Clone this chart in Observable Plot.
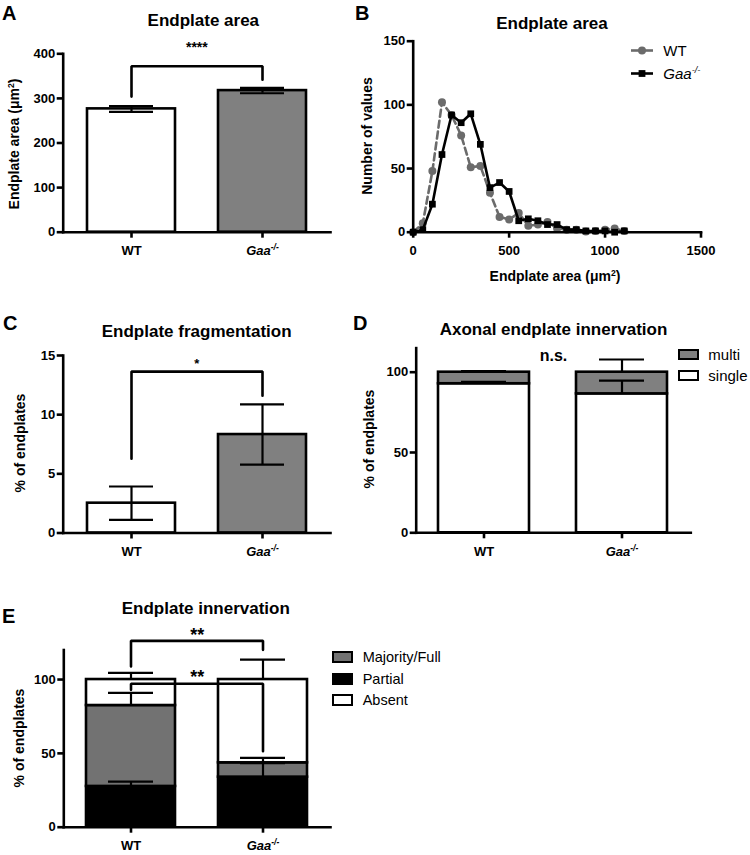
<!DOCTYPE html>
<html>
<head>
<meta charset="utf-8">
<script src="https://cdn.jsdelivr.net/npm/d3@7"></script>
<script src="https://cdn.jsdelivr.net/npm/@observablehq/plot@0.6"></script>
<style>
  html, body { margin: 0; padding: 0; background: #fff; }
  #fig { position: relative; width: 750px; height: 855px; overflow: hidden; background: #fff;
         font-family: "Liberation Sans", Arial, Helvetica, sans-serif; color: #000; }
  .t { position: absolute; white-space: nowrap; line-height: 1; }
  .c { transform: translate(-50%, -50%); }
  .l { transform: translate(0, -50%); }
  .rot { transform: translate(-50%, -50%) rotate(-90deg); }
  .letter { font-size: 20px; font-weight: bold; }
  .title { font-size: 17px; font-weight: bold; }
  .axt { font-size: 14px; font-weight: bold; }
  .leg { font-size: 15px; font-weight: normal; }
  .legE { font-size: 14.5px; font-weight: normal; }
  sup.s { font-size: 0.62em; vertical-align: 0.55em; line-height: 0; }
</style>
</head>
<body>
<div id="fig"></div>
<script>
// ---------------- DATA ----------------
const groups = ["WT", "Gaa-/-"];

// A: endplate area (mean ± SEM, µm²)
const areaMean = [276.5, 317.5];
const areaSem = [6.5, 6.0];
const sigA = {label: "****", yLeft: 304, yRight: 342, yTop: 372, yLabel: 413};

// B: frequency distribution of endplate area
const binCenters = [0, 50, 100, 150, 200, 250, 300, 350, 400, 450, 500, 550, 600, 650, 700, 750, 800, 850, 900, 950, 1000, 1050, 1100];
const wtCounts  = [0, 7, 48, 102, 92, 76, 51, 52, 31, 12, 10, 15, 5, 6, 8, 3, 2, 2, 0.5, 1, 2, 3, 1];
const gaaCounts = [0, 2, 22, 61, 92, 86, 93, 69, 35, 39, 32, 9, 10.5, 9, 6, 6, 2, 2, 1, 1, 1, 0, 1];

// C: fragmentation (% of endplates, mean ± SEM)
const fragMean = [2.52, 8.32];
const fragSem = [1.41, 2.55];
const sigC = {label: "*", yLeft: 6.27, yRight: 11.6, yTop: 13.64, yLabel: 14.28};

// D: axonal innervation (stacked %, SEM upward)
const axonKinds = ["single", "multi"];
const singlePct = [92.8, 86.5];
const singleSem = [1.2, 8.3];
const multiPct = [7.2, 13.5];
const multiSem = [0.7, 7.9];
const sigD = {label: "n.s.", yLabel: 110.4};

// E: endplate innervation (stacked %, SEM upward)
const innervKinds = ["Partial", "Majority/Full", "Absent"];
const partialPct = [27.6, 33.9];
const partialSem = [3.3, 9.5];
const majorityPct = [54.8, 9.7];
const majoritySem = [8.6, 3.4];
const absentPct = [17.6, 56.4];
const absentSem = [4.5, 13.5];
const sigE1 = {label: "**", yLeft: 108.8, yRight: 120.1, yTop: 126.2, yLabel: 130};
const sigE2 = {label: "**", yLeft: 93.0, yRight: 51.4, yTop: 97.1, yLabel: 101.6};

// ---------------- STYLE ----------------
const FONT = '"Liberation Sans", Arial, Helvetica, sans-serif';
const GRAY = "#808080";
const GRAY_E = "#727272";
const GRAY_LINE = "#6b6b6b";
const barFill = {"WT": "white", "Gaa-/-": GRAY};
const axonFill = {single: "white", multi: GRAY};
const innervFill = {"Partial": "black", "Majority/Full": GRAY_E, "Absent": "white"};
const AXW = 2.6;
const TICKFONT = 13;

const fig = document.getElementById("fig");
const baseStyle = {fontFamily: FONT, fontSize: "13px", fontWeight: "bold", background: "transparent", overflow: "visible", color: "black"};

function place(svg, left, top) {
  svg.style.position = "absolute";
  svg.style.left = left + "px";
  svg.style.top = top + "px";
  svg.style.overflow = "visible";
  svg.style.background = "transparent";
  fig.appendChild(svg);
  gaaify(svg);
}
function gaaify(svg) {
  const ns = "http://www.w3.org/2000/svg";
  svg.querySelectorAll("text").forEach(t => {
    if (t.textContent.trim() === "Gaa-/-") {
      while (t.firstChild) t.removeChild(t.firstChild);
      const a = document.createElementNS(ns, "tspan");
      a.textContent = "Gaa"; a.setAttribute("font-style", "italic");
      const b = document.createElementNS(ns, "tspan");
      b.textContent = "-/-"; b.setAttribute("font-style", "italic");
      b.setAttribute("font-size", "8.5"); b.setAttribute("dy", "-0.6em");
      t.append(a, b);
    }
  });
}
function html(content, x, y, cls) {
  const d = document.createElement("div");
  d.className = "t " + cls;
  d.style.left = x + "px"; d.style.top = y + "px";
  d.innerHTML = content;
  fig.appendChild(d);
  return d;
}
const fmt = d3.format("d");
function frameAxes(yTicks, xTicks) {
  return [
    Plot.frame({anchor: "left", strokeWidth: AXW}),
    Plot.frame({anchor: "bottom", strokeWidth: AXW}),
    Plot.axisY({ticks: yTicks, tickFormat: fmt, tickSize: 6, tickPadding: 2, strokeWidth: AXW, fontSize: TICKFONT, fontWeight: "bold", label: null}),
    xTicks ? Plot.axisX({ticks: xTicks, tickFormat: fmt, tickSize: 6, tickPadding: 8, strokeWidth: AXW, fontSize: TICKFONT, fontWeight: "bold", label: null})
           : Plot.axisX({tickSize: 6, tickPadding: 8, strokeWidth: AXW, fontSize: TICKFONT, fontWeight: "bold", label: null})
  ];
}
function bracket(sig) {
  return [
    {x: groups[0], y: sig.yLeft}, {x: groups[0], y: sig.yTop},
    {x: groups[1], y: sig.yTop}, {x: groups[1], y: sig.yRight}
  ];
}
function stackRows(kinds, pcts, sems) {
  const rows = [];
  groups.forEach((g, i) => {
    let cum = 0;
    kinds.forEach((k, j) => {
      const v = pcts[j][i];
      rows.push({group: g, kind: k, y1: cum, y2: cum + v, sem: sems[j][i]});
      cum += v;
    });
  });
  return rows;
}

// ---------------- PANEL A ----------------
const tableA = groups.map((g, i) => ({group: g, mean: areaMean[i], sem: areaSem[i]}));
place(Plot.plot({
  width: 345, height: 265,
  marginLeft: 62.7, marginRight: 15, marginTop: 53.3, marginBottom: 33.3,
  style: baseStyle,
  x: {domain: groups, paddingInner: 0.33, paddingOuter: 0.18, label: null},
  y: {domain: [0, 400], label: null},
  marks: [
    Plot.barY(tableA, {x: "group", y: "mean", fill: d => barFill[d.group], stroke: "black", strokeWidth: AXW}),
    Plot.ruleX(tableA, {x: "group", y1: d => d.mean - d.sem, y2: d => d.mean + d.sem, strokeWidth: 2.2}),
    Plot.tickY(tableA, {x: "group", y: d => d.mean + d.sem, insetLeft: 22, insetRight: 22, strokeWidth: 2.2}),
    Plot.tickY(tableA, {x: "group", y: d => d.mean - d.sem, insetLeft: 22, insetRight: 22, strokeWidth: 2.2}),
    Plot.line(bracket(sigA), {x: "x", y: "y", strokeWidth: AXW, strokeLinejoin: "miter"}),
    Plot.text([sigA], {y: "yLabel", text: "label", fontSize: 14, lineAnchor: "middle"}),
    ...frameAxes([0, 100, 200, 300, 400])
  ]
}), 0, 0);

// ---------------- PANEL B ----------------
const wtRows = binCenters.map((x, i) => ({x, y: wtCounts[i]}));
const gaaRows = binCenters.map((x, i) => ({x, y: gaaCounts[i]}));
place(Plot.plot({
  width: 400, height: 290,
  marginLeft: 62.7, marginRight: 49.5, marginTop: 40.7, marginBottom: 58.3,
  style: baseStyle,
  x: {domain: [0, 1500], label: null},
  y: {domain: [0, 150], label: null},
  marks: [
    Plot.line(wtRows, {x: "x", y: "y", stroke: GRAY_LINE, strokeWidth: 2.6, strokeDasharray: "7,4"}),
    Plot.dot(wtRows, {x: "x", y: "y", fill: GRAY_LINE, r: 4}),
    Plot.line(gaaRows, {x: "x", y: "y", stroke: "black", strokeWidth: 2.6}),
    Plot.dot(gaaRows, {x: "x", y: "y", fill: "black", symbol: "square", r: 3.8}),
    ...frameAxes([0, 50, 100, 150], [0, 500, 1000, 1500])
  ]
}), 350, 0);

// ---------------- PANEL C ----------------
const tableC = groups.map((g, i) => ({group: g, mean: fragMean[i], sem: fragSem[i]}));
place(Plot.plot({
  width: 345, height: 260,
  marginLeft: 62.7, marginRight: 15, marginTop: 55, marginBottom: 27.5,
  style: baseStyle,
  x: {domain: groups, paddingInner: 0.33, paddingOuter: 0.18, label: null},
  y: {domain: [0, 15], label: null},
  marks: [
    Plot.barY(tableC, {x: "group", y: "mean", fill: d => barFill[d.group], stroke: "black", strokeWidth: AXW}),
    Plot.ruleX(tableC, {x: "group", y1: d => d.mean - d.sem, y2: d => d.mean + d.sem, strokeWidth: 2.2}),
    Plot.tickY(tableC, {x: "group", y: d => d.mean + d.sem, insetLeft: 22, insetRight: 22, strokeWidth: 2.2}),
    Plot.tickY(tableC, {x: "group", y: d => d.mean - d.sem, insetLeft: 22, insetRight: 22, strokeWidth: 2.2}),
    Plot.line(bracket(sigC), {x: "x", y: "y", strokeWidth: AXW, strokeLinejoin: "miter"}),
    Plot.text([sigC], {y: "yLabel", text: "label", fontSize: 13, lineAnchor: "middle"}),
    ...frameAxes([0, 5, 10, 15])
  ]
}), 0, 300);

// ---------------- PANEL D ----------------
const rowsD = stackRows(axonKinds, [singlePct, multiPct], [singleSem, multiSem]);
place(Plot.plot({
  width: 400, height: 260,
  marginLeft: 65.7, marginRight: 59.7, marginTop: 47.6, marginBottom: 27.7,
  style: baseStyle,
  x: {domain: groups, paddingInner: 0.34, paddingOuter: 0.163, label: null},
  y: {domain: [0, 115], label: null},
  marks: [
    Plot.barY(rowsD, {x: "group", y1: "y1", y2: "y2", fill: d => axonFill[d.kind], stroke: "black", strokeWidth: AXW}),
    Plot.ruleX(rowsD, {x: "group", y1: "y2", y2: d => d.y2 + d.sem, strokeWidth: 2.2}),
    Plot.tickY(rowsD, {x: "group", y: d => d.y2 + d.sem, insetLeft: 23, insetRight: 23, strokeWidth: 2.2}),
    Plot.text([sigD], {y: "yLabel", text: "label", fontSize: 16, lineAnchor: "middle"}),
    ...frameAxes([0, 50, 100])
  ]
}), 350, 300);

// ---------------- PANEL E ----------------
const rowsE = stackRows(innervKinds, [partialPct, majorityPct, absentPct], [partialSem, majoritySem, absentSem]);
place(Plot.plot({
  width: 345, height: 255,
  marginLeft: 63.3, marginRight: 15, marginTop: 49.5, marginBottom: 28.3,
  style: baseStyle,
  x: {domain: groups, paddingInner: 0.327, paddingOuter: 0.17, label: null},
  y: {domain: [0, 120], label: null},
  marks: [
    Plot.barY(rowsE, {x: "group", y1: "y1", y2: "y2", fill: d => innervFill[d.kind], stroke: "black", strokeWidth: AXW}),
    Plot.ruleX(rowsE, {x: "group", y1: "y2", y2: d => d.y2 + d.sem, strokeWidth: 2.2}),
    Plot.tickY(rowsE, {x: "group", y: d => d.y2 + d.sem, insetLeft: 22, insetRight: 22, strokeWidth: 2.2}),
    Plot.line(bracket(sigE1), {x: "x", y: "y", strokeWidth: AXW, strokeLinejoin: "miter"}),
    Plot.line(bracket(sigE2), {x: "x", y: "y", strokeWidth: AXW, strokeLinejoin: "miter"}),
    Plot.text([sigE1, sigE2], {y: "yLabel", text: "label", fontSize: 18, lineAnchor: "middle"}),
    ...frameAxes([0, 50, 100])
  ]
}), 0, 600);

// ---------------- TEXT: letters, titles, axis titles ----------------
html("A", 2, 13, "letter l");
html("B", 355, 13, "letter l");
html("C", 3, 322.5, "letter l");
html("D", 353, 322.5, "letter l");
html("E", 2, 615.5, "letter l");

html("Endplate area", 203.3, 20, "title c");
html("Endplate area", 552, 23.3, "title c");
html("Endplate fragmentation", 196.7, 331.2, "title c");
html("Axonal endplate innervation", 553.5, 329.2, "title c");
html("Endplate innervation", 205.8, 607.9, "title c");

html('Endplate area (\u03bcm<sup class="s">2</sup>)', 14, 144, "axt rot");
html("Number of values", 366.5, 136, "axt rot");
html('Endplate area (\u03bcm<sup class="s">2</sup>)', 555, 276, "axt c");
html("% of endplates", 20, 442.5, "axt rot");
html("% of endplates", 368.5, 439, "axt rot");
html("% of endplates", 18.5, 738, "axt rot");

// ---------------- LEGENDS ----------------
const legB = [
  {name: "WT", y: 50, marker: `<svg width="24" height="12" style="position:absolute;left:-33px;top:-6px;overflow:visible"><line x1="1" y1="6" x2="23" y2="6" stroke="${GRAY_LINE}" stroke-width="2.6"/><circle cx="12" cy="6" r="4" fill="${GRAY_LINE}"/></svg>`},
  {name: '<i>Gaa</i><sup class="s"><i>-/-</i></sup>', y: 73, marker: `<svg width="24" height="12" style="position:absolute;left:-33px;top:-6px;overflow:visible"><line x1="1" y1="6" x2="23" y2="6" stroke="black" stroke-width="2.6"/><rect x="8.6" y="2.6" width="6.8" height="6.8" fill="black"/></svg>`}
];
legB.forEach(d => {
  const el = html(d.name, 663.3, d.y, "leg l");
  const m = document.createElement("div");
  m.style.position = "absolute"; m.style.left = "0px"; m.style.top = "50%";
  m.innerHTML = d.marker;
  el.appendChild(m);
});

function swatchLegend(items, x, textX, fillMap, cls, w, h) {
  items.forEach(it => {
    const s = document.createElement("div");
    s.style.position = "absolute";
    s.style.left = x + "px"; s.style.top = (it.y - h / 2) + "px";
    s.style.width = w + "px"; s.style.height = h + "px";
    s.style.boxSizing = "border-box";
    s.style.border = "2.5px solid black";
    s.style.background = fillMap[it.kind];
    fig.appendChild(s);
    html(it.kind, textX, it.y, cls + " l");
  });
}
swatchLegend([{kind: "multi", y: 354}, {kind: "single", y: 375.3}], 678, 708.3, axonFill, "leg", 21, 11);
swatchLegend([{kind: "Majority/Full", y: 657.2}, {kind: "Partial", y: 679.2}, {kind: "Absent", y: 699.5}], 331.7, 362.7, innervFill, "legE", 21, 12);
</script>
</body>
</html>
